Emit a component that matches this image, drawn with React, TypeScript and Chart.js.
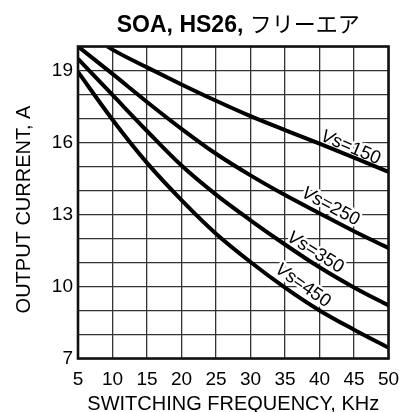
import React, { useEffect, useRef } from "react";
import { Chart, registerables } from "chart.js";

Chart.register(...registerables);

const FONT = '"Liberation Sans", Arial, Helvetica, sans-serif';
const CJK_FONT = '"Noto Sans CJK JP", "Noto Sans CJK SC", sans-serif';

// Texts
const titleLatin = "SOA, HS26, ";
const titleKana = "フリーエア";
const xAxisTitle = "SWITCHING FREQUENCY, KHz";
const yAxisTitle = "OUTPUT CURRENT, A";

// Axis ranges and tick labels
const freqMin = 5;
const freqMax = 50;
const freqStep = 5;
const currentMin = 7;
const currentMax = 20;
const currentLabelled = [7, 10, 13, 16, 19];

// Safe operating area curves (switching frequency in kHz, output current in A)
const freqKHz = [5, 10, 15, 20, 25, 30, 35, 40, 45, 50];
const vs150Freq = [9.3, 10, 15, 20, 25, 30, 35, 40, 45, 50];
const vs150Current = [20, 19.87, 19.13, 18.42, 17.74, 17.1, 16.52, 15.95, 15.37, 14.77];
const vs250Current = [20, 18.86, 17.69, 16.57, 15.53, 14.63, 13.81, 13.05, 12.3, 11.6];
const vs350Current = [19.48, 17.98, 16.48, 15.04, 13.83, 12.76, 11.75, 10.8, 9.96, 9.21];
const vs450Current = [18.94, 16.95, 15.15, 13.6, 12.2, 11.02, 9.95, 9.0, 8.2, 7.45];

// Curve captions: supply voltage, anchor (kHz, A) and slant in degrees
const captionVoltage = ["150", "250", "350", "450"];
const captionFreq = [44.5, 41.6, 39.4, 37.6];
const captionCurrent = [15.79, 13.33, 11.42, 10.04];
const captionAngle = [23, 28, 32, 35];

const toPoints = (xs: number[], ys: number[]) => xs.map((x, i) => ({ x, y: ys[i] }));

const curve = (label: string, data: { x: number; y: number }[]) => ({
  label,
  data,
  borderColor: "#000",
  borderWidth: 4,
  pointRadius: 0,
  fill: false,
  cubicInterpolationMode: "monotone" as const,
});

const decorations = {
  id: "decorations",
  beforeDatasetsDraw(chart: any) {
    const { ctx, scales } = chart;
    const xs = scales.x;
    const ys = scales.y;
    ctx.save();
    captionVoltage.forEach((v, i) => {
      const px = xs.getPixelForValue(captionFreq[i]);
      const py = ys.getPixelForValue(captionCurrent[i]);
      ctx.save();
      ctx.translate(px, py);
      ctx.rotate((captionAngle[i] * Math.PI) / 180);
      ctx.textBaseline = "middle";
      ctx.textAlign = "left";
      const vFont = `italic 18.5px ${FONT}`;
      const restFont = `18.5px ${FONT}`;
      const rest = "s=" + v;
      ctx.font = vFont;
      const wV = ctx.measureText("V").width;
      ctx.font = restFont;
      const wR = ctx.measureText(rest).width;
      const x0 = -(wV + wR) / 2;
      ctx.lineJoin = "round";
      ctx.strokeStyle = "#fff";
      ctx.lineWidth = 5;
      ctx.font = vFont;
      ctx.strokeText("V", x0, 0);
      ctx.font = restFont;
      ctx.strokeText(rest, x0 + wV, 0);
      ctx.fillStyle = "#000";
      ctx.font = vFont;
      ctx.fillText("V", x0, 0);
      ctx.font = restFont;
      ctx.fillText(rest, x0 + wV, 0);
      ctx.restore();
    });
    ctx.restore();
  },
  afterDatasetsDraw(chart: any) {
    const { ctx, chartArea } = chart;
    ctx.save();
    ctx.strokeStyle = "#111";
    ctx.lineWidth = 2.6;
    ctx.strokeRect(chartArea.left, chartArea.top, chartArea.right - chartArea.left, chartArea.bottom - chartArea.top);
    ctx.restore();
  },
  afterDraw(chart: any) {
    const { ctx, chartArea } = chart;
    const cx = (chartArea.left + chartArea.right) / 2;
    const cy = (chartArea.top + chartArea.bottom) / 2;
    ctx.save();
    ctx.fillStyle = "#000";

    // Title: bold Latin part followed by katakana
    const latinFont = `bold 23px ${FONT}`;
    const kanaFont = `22px ${CJK_FONT}`;
    ctx.font = latinFont;
    const wL = ctx.measureText(titleLatin).width;
    ctx.font = kanaFont;
    const wK = ctx.measureText(titleKana).width;
    const tx = cx + 5 - (wL + wK) / 2;
    ctx.textBaseline = "alphabetic";
    ctx.textAlign = "left";
    ctx.font = latinFont;
    ctx.fillText(titleLatin, tx, 32);
    ctx.font = kanaFont;
    ctx.fillText(titleKana, tx + wL, 32);

    // X axis title
    ctx.font = `20px ${FONT}`;
    ctx.textAlign = "center";
    ctx.fillText(xAxisTitle, cx, 410);

    // Y axis title
    ctx.save();
    ctx.translate(30, cy + 7);
    ctx.rotate(-Math.PI / 2);
    ctx.textAlign = "center";
    ctx.textBaseline = "alphabetic";
    ctx.fillText(yAxisTitle, 0, 0);
    ctx.restore();

    ctx.restore();
  },
};

export default function App() {
  const canvasRef = useRef<HTMLCanvasElement>(null);

  useEffect(() => {
    const canvas = canvasRef.current;
    if (!canvas) return;
    const chart = new Chart(canvas, {
      type: "line",
      data: {
        datasets: [
          curve("Vs=150", toPoints(vs150Freq, vs150Current)),
          curve("Vs=250", toPoints(freqKHz, vs250Current)),
          curve("Vs=350", toPoints(freqKHz, vs350Current)),
          curve("Vs=450", toPoints(freqKHz, vs450Current)),
        ],
      },
      options: {
        animation: false,
        responsive: false,
        devicePixelRatio: 1,
        layout: { padding: { top: 46.5, right: 10.5, left: 0, bottom: 0 } },
        plugins: {
          legend: { display: false },
          tooltip: { enabled: false },
          title: { display: false },
        },
        scales: {
          x: {
            type: "linear",
            min: freqMin,
            max: freqMax,
            afterFit: (s: any) => {
              s.height = 53.5;
              s.paddingLeft = 0;
              s.paddingRight = 0;
            },
            ticks: {
              stepSize: freqStep,
              autoSkip: false,
              maxRotation: 0,
              padding: 10,
              color: "#000",
              font: { family: FONT, size: 19 },
            },
            grid: { color: "#333", lineWidth: 1.3, drawTicks: false },
            border: { display: false },
          },
          y: {
            type: "linear",
            min: currentMin,
            max: currentMax,
            afterFit: (s: any) => {
              s.width = 78;
              s.paddingTop = 0;
              s.paddingBottom = 0;
            },
            ticks: {
              stepSize: 1,
              autoSkip: false,
              padding: 5,
              color: "#000",
              font: { family: FONT, size: 19 },
              callback: (v: any) => (currentLabelled.includes(Number(v)) ? String(v) : ""),
            },
            grid: { color: "#333", lineWidth: 1.3, drawTicks: false },
            border: { display: false },
          },
        },
      },
      plugins: [decorations],
    });
    return () => chart.destroy();
  }, []);

  return (
    <div style={{ position: "fixed", left: 0, top: 0, width: 399, height: 412, background: "#fff" }}>
      <canvas ref={canvasRef} width={399} height={412} style={{ display: "block", width: 399, height: 412 }} />
    </div>
  );
}
